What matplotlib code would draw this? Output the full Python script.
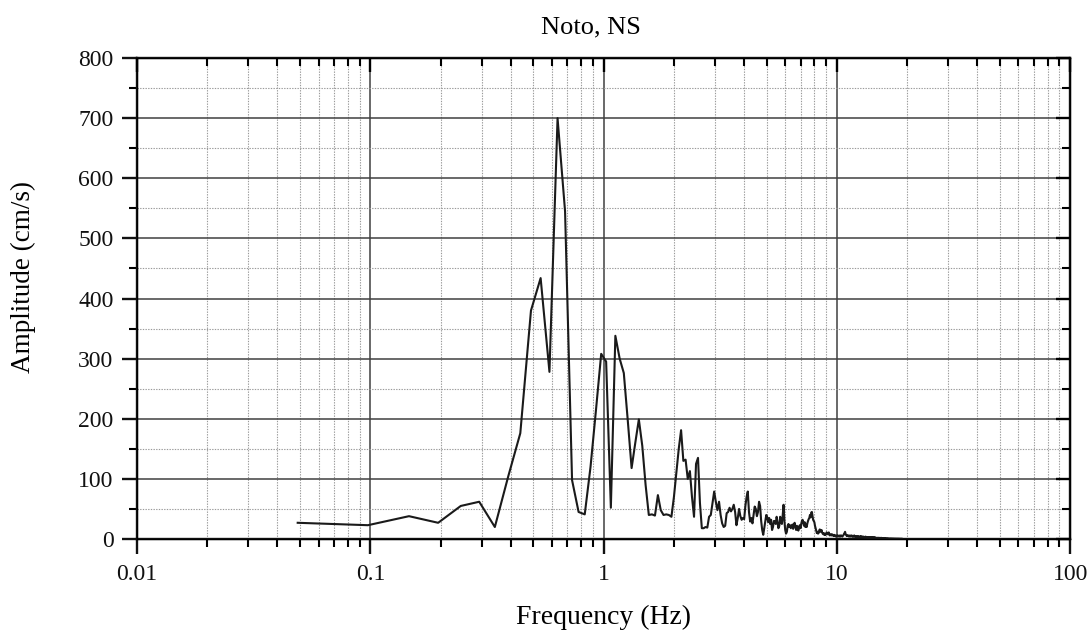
import numpy as np
import matplotlib
matplotlib.use("Agg")
import matplotlib.pyplot as plt
from matplotlib.ticker import LogLocator, FixedLocator, FuncFormatter, MultipleLocator, NullFormatter

# Fourier amplitude spectrum, sampling step df = 1/20.48 Hz
df = 1 / 20.48
amp = [
    27, 23, 38, 27, 55, 62, 20, 105, 176, 380, 434, 278, 700, 545, 98, 45, 41, 120, 215, 308,
    295, 52, 338, 300, 276, 197, 118, 160, 199, 155, 90, 40, 41, 39, 73, 48, 40, 41, 40, 37,
    70, 110, 150, 181, 130, 132, 100, 113, 70, 37, 125, 135, 60, 18, 18, 20, 19, 37, 40, 60,
    79, 62, 48, 62, 40, 26, 20, 22, 43, 45, 52, 46, 50, 57, 45, 23, 35, 50, 38, 32,
    35, 33, 55, 70, 79, 45, 29, 35, 26, 40, 54, 50, 38, 45, 62, 55, 30, 15, 7, 18,
    30, 40, 36, 28, 35, 25, 32, 15, 20, 30, 30, 25, 37, 28, 18, 22, 37, 30, 25, 40,
    57, 30, 15, 9, 12, 22, 25, 20, 23, 18, 22, 24, 17, 25, 27, 20, 15, 22, 20, 14,
    20, 23, 18, 25, 30, 32, 27, 22, 28, 20, 24, 20, 26, 30, 33, 35, 40, 36, 44, 45,
    38, 32, 30, 28, 22, 18, 14, 10, 12, 9, 10, 14, 16, 12, 13, 15, 11, 9, 8, 10,
    7, 8, 7, 9, 11, 10, 8, 9, 11, 7, 6, 8, 7, 6, 8, 7, 6, 5, 7, 6,
    5, 6, 4, 5, 6, 5, 6, 5, 4, 5, 6, 4, 5, 6, 5, 4, 5, 6, 7, 9,
    10, 12, 9, 7, 6, 5, 6, 5, 6, 5, 4, 5, 6, 5, 4, 5, 6, 5, 4, 5,
    4, 5, 6, 4, 5, 4, 5, 4, 4, 3, 4, 5, 4, 3, 4, 4, 3, 4, 5, 4,
    3, 4, 3, 4, 3, 3, 4, 3, 3, 2, 3, 4, 3, 3, 2, 3, 3, 2, 3, 3,
    3, 2, 3, 3, 2, 3, 2, 3, 2, 2, 3, 2, 2, 3, 2, 2, 2, 3, 2, 2,
    2, 2, 2, 1.5, 2, 2, 1.5, 2, 2, 1.5, 2, 1.5, 1.5, 2, 1.5, 1.5, 1.5, 2, 1.5, 1.5,
    1.5, 1.5, 1, 1.5, 1.5, 1, 1.5, 1, 1, 1.5, 1, 1, 1.5, 1, 1, 1, 1, 1.5, 1, 1,
    1, 1, 1, 1, 0.8, 1, 1, 0.8, 1, 0.8, 0.8, 1, 0.8, 0.8, 0.8, 1, 0.8, 0.8, 0.8, 0.8,
    0.8, 0.7, 0.8, 0.7, 0.7, 0.8, 0.7, 0.7, 0.7, 0.6, 0.7, 0.7, 0.6, 0.6, 0.7, 0.6, 0.6, 0.6, 0.5, 0.6,
    0.5, 0.5, 0.6, 0.5, 0.5, 0.5, 0.5, 0.4, 0.5, 0.4,
]
freq = df * np.arange(1, len(amp) + 1)

x_ticks = [0.01, 0.1, 1, 10, 100]
y_ticks = [0, 100, 200, 300, 400, 500, 600, 700, 800]

plt.rcParams['font.family'] = ['Liberation Serif', 'DejaVu Serif']

fig = plt.figure(figsize=(10.92, 6.34), dpi=100)
ax = fig.add_axes([0.1255, 0.1498, 0.8545, 0.7587])

ax.plot(freq, amp, color='#1a1a1a', lw=1.5, zorder=3)

ax.set_xscale('log')
ax.set_xlim(0.01, 100)
ax.set_ylim(0, 800)
ax.xaxis.set_major_locator(FixedLocator(x_ticks))
ax.xaxis.set_minor_locator(LogLocator(base=10, subs=np.arange(2, 10), numticks=20))
ax.xaxis.set_major_formatter(FuncFormatter(lambda v, p: '%g' % v))
ax.xaxis.set_minor_formatter(NullFormatter())
ax.yaxis.set_major_locator(FixedLocator(y_ticks))
ax.yaxis.set_minor_locator(MultipleLocator(50))

ax.grid(which='major', color='#404040', lw=1.1, ls='-')
ax.grid(which='minor', color='#9a9a9a', lw=0.8, ls=(0, (1.2, 1.2)))
ax.set_axisbelow(True)

for s in ax.spines.values():
    s.set_linewidth(1.7)
    s.set_color('#111111')

ax.tick_params(which='major', direction='out', length=11, width=1.7, labelsize=17, colors='#111111')
ax.tick_params(which='minor', direction='out', length=6, width=1.5)
ax.tick_params(axis='x', which='major', pad=7)
ax.tick_params(axis='y', which='major', pad=6)

# inward ticks on top and right
axt = ax.twiny()
axt.set_xscale('log')
axt.set_xlim(ax.get_xlim())
axt.xaxis.set_major_locator(FixedLocator(x_ticks))
axt.xaxis.set_minor_locator(LogLocator(base=10, subs=np.arange(2, 10), numticks=20))
axt.tick_params(which='major', direction='in', length=10, width=1.7, labeltop=False)
axt.tick_params(which='minor', direction='in', length=6, width=1.5)

axr = ax.twinx()
axr.set_ylim(ax.get_ylim())
axr.yaxis.set_major_locator(FixedLocator(y_ticks))
axr.yaxis.set_minor_locator(MultipleLocator(50))
axr.tick_params(which='major', direction='in', length=10, width=1.7, labelright=False)
axr.tick_params(which='minor', direction='in', length=6, width=1.5)

ax.set_xlabel('Frequency (Hz)', fontsize=20, labelpad=14)
ax.set_ylabel('Amplitude (cm/s)', fontsize=19.5)
ax.yaxis.set_label_coords(-0.108, 0.545)
fig.text(0.541, 0.956, 'Noto, NS', fontsize=19, ha='center', va='center')

fig.savefig('out.png', dpi=100)
